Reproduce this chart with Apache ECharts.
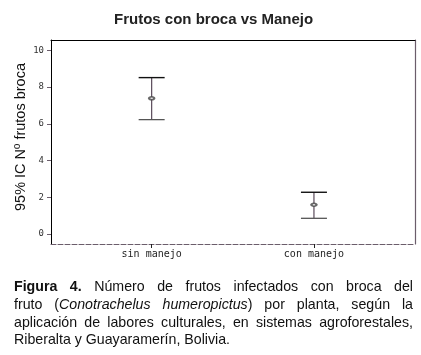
<!DOCTYPE html>
<html>
<head>
<meta charset="utf-8">
<script src="https://cdn.jsdelivr.net/npm/echarts@6/dist/echarts.min.js"></script>
<style>
  html, body { margin: 0; padding: 0; background: #fff; }
  #chart { position: absolute; left: 0; top: 0; width: 421px; height: 355px; }
  #caption { position: absolute; left: 14px; top: 278px; width: 399px;
    font-family: "Liberation Sans", Arial, sans-serif; font-size: 14.2px; line-height: 17.8px; color: #111; }
  #caption .j { text-align: justify; text-align-last: justify; }
</style>
</head>
<body>
<div id="chart"></div>
<div id="caption">
  <div class="j"><b>Figura 4.</b> Número de frutos infectados con broca del</div>
  <div class="j">fruto (<i>Conotrachelus humeropictus</i>) por planta, según la</div>
  <div class="j">aplicación de labores culturales, en sistemas agroforestales,</div>
  <div>Riberalta y Guayaramerín, Bolivia.</div>
</div>
<script>
// Data
const categories = ["sin manejo", "con manejo"];
const ciLower = [6.23, 0.85];
const ciMean = [7.39, 1.59];
const ciUpper = [8.52, 2.27];
const yTicks = [0, 2, 4, 6, 8, 10];

const chart = echarts.init(document.getElementById('chart'), null, { renderer: 'canvas' });

const barData = categories.map((c, i) => [i, ciLower[i], ciMean[i], ciUpper[i]]);
const meanData = categories.map((c, i) => [i, ciMean[i]]);

const purple = '#6b5d6b';
const yMin = -0.55, yMax = 10.57;

chart.setOption({
  animation: false,
  backgroundColor: '#fff',
  title: {
    text: 'Frutos con broca vs Manejo',
    left: 112,
    top: 10,
    padding: 2,
    textStyle: { fontFamily: 'Liberation Sans, Arial, sans-serif', fontSize: 15, fontWeight: 'bold', color: '#222' }
  },
  grid: [
    { left: 51, right: 6, top: 40, bottom: 111, outerBoundsMode: 'none' },
    { left: 70.5, right: 25.9, top: 40, bottom: 111, outerBoundsMode: 'none' }
  ],
  xAxis: [{
    gridIndex: 0, type: 'value', position: 'bottom', min: 0, max: 1,
    axisLine: { show: true, onZero: false, lineStyle: { color: purple, width: 1, type: [5, 2] } },
    axisTick: { show: false }, axisLabel: { show: false }, splitLine: { show: false }
  }, {
    gridIndex: 0, type: 'value', position: 'top', min: 0, max: 1,
    axisLine: { show: true, onZero: false, lineStyle: { color: '#000', width: 1 } },
    axisTick: { show: false }, axisLabel: { show: false }, splitLine: { show: false }
  }, {
    gridIndex: 1, type: 'category', position: 'bottom', data: categories, boundaryGap: true,
    axisLine: { show: false, onZero: false },
    axisTick: { show: true, inside: false, length: 4, alignWithLabel: true, interval: 0, lineStyle: { color: '#222', width: 1 } },
    axisLabel: {
      show: true, margin: 5, interval: 0,
      fontFamily: 'DejaVu Sans Mono, monospace', fontSize: 10, color: '#222'
    },
    splitLine: { show: false }
  }],
  yAxis: [{
    gridIndex: 0, type: 'value', position: 'left', min: yMin, max: yMax,
    name: '95% IC Nº frutos broca', nameLocation: 'middle', nameRotate: 90, nameGap: 23, nameMoveOverlap: false,
    nameTextStyle: { fontFamily: 'Liberation Sans, Arial, sans-serif', fontSize: 14.5, color: '#111', padding: [0, 0, 0, 10] },
    axisLine: { show: true, onZero: false, lineStyle: { color: '#000', width: 1 } },
    axisTick: { show: true, inside: false, length: 4, customValues: yTicks, lineStyle: { color: purple } },
    axisLabel: {
      show: true, margin: 7, customValues: yTicks,
      fontFamily: 'DejaVu Sans Mono, monospace', fontSize: 9, color: '#333'
    },
    splitLine: { show: false }
  }, {
    gridIndex: 0, type: 'value', position: 'right', min: yMin, max: yMax,
    axisLine: { show: true, onZero: false, lineStyle: { color: purple, width: 1.2 } },
    axisTick: { show: false }, axisLabel: { show: false }, splitLine: { show: false }
  }, {
    gridIndex: 1, type: 'value', min: yMin, max: yMax,
    axisLine: { show: false }, axisTick: { show: false }, axisLabel: { show: false }, splitLine: { show: false }
  }],
  series: [{
    type: 'custom',
    xAxisIndex: 2, yAxisIndex: 2,
    data: barData,
    renderItem: function (params, api) {
      const x = api.value(0);
      const top = api.coord([x, api.value(3)]);
      const bot = api.coord([x, api.value(1)]);
      const hw = 13;
      return {
        type: 'group',
        children: [
          { type: 'line', shape: { x1: top[0], y1: top[1], x2: bot[0], y2: bot[1] }, style: { stroke: '#5a4a5a', lineWidth: 1.2 } },
          { type: 'line', shape: { x1: top[0] - hw, y1: top[1], x2: top[0] + hw, y2: top[1] }, style: { stroke: '#111', lineWidth: 1.4 } },
          { type: 'line', shape: { x1: bot[0] - hw, y1: bot[1], x2: bot[0] + hw, y2: bot[1] }, style: { stroke: '#555', lineWidth: 1.3 } }
        ]
      };
    },
    z: 2
  }, {
    type: 'scatter',
    xAxisIndex: 2, yAxisIndex: 2,
    data: meanData,
    symbol: 'emptyCircle',
    symbolSize: [5, 3],
    itemStyle: { color: '#444', borderWidth: 1 },
    z: 3
  }]
});
</script>
</body>
</html>
